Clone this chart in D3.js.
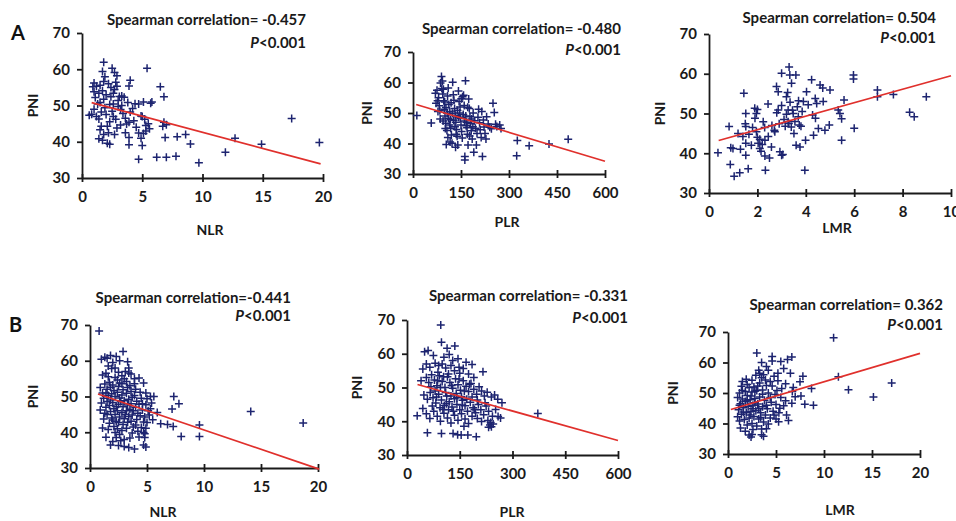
<!DOCTYPE html>
<html>
<head>
<meta charset="utf-8">
<script src="https://cdn.jsdelivr.net/npm/d3@7"></script>
<style>
  body { margin: 0; background: #fff; }
  svg { display: block; font-family: Lato, "Open Sans", sans-serif; font-weight: bold; }
  .axis path, .axis line { stroke: #1a1a1a; stroke-width: 1.8; }
  .axis text { font-size: 15px; font-weight: bold; fill: #1a1a1a; font-family: Lato, sans-serif; }
</style>
</head>
<body>
<svg id="chart" width="956" height="521"></svg>
<script>
  // --- data ---
  var pniTicks = [30, 40, 50, 60, 70];
  var nlrTicks = [0, 5, 10, 15, 20];
  var plrTicks = [0, 150, 300, 450, 600];
  var lmrTicksA = [0, 2, 4, 6, 8, 10];
  var lmrTicksB = [0, 5, 10, 15, 20];

  var titles = ['Spearman correlation= -0.457', 'Spearman correlation= -0.480', 'Spearman correlation= 0.504',
    'Spearman correlation=-0.441', 'Spearman correlation= -0.331', 'Spearman correlation= 0.362'];
  var xNames = ['NLR', 'PLR', 'LMR', 'NLR', 'PLR', 'LMR'];

  var fitA1 = [[0.8, 50.8], [19.8, 33.9]];
  var fitA2 = [[10, 52.8], [600, 34.2]];
  var fitA3 = [[0.4, 43.2], [10, 59.5]];
  var fitB1 = [[0.7, 50.7], [20.1, 29.7]];
  var fitB2 = [[30, 50.9], [600, 34.3]];
  var fitB3 = [[0.3, 44.6], [20, 63.0]];

  var ptsA1 = [[17.4,46.4],[19.7,39.8],[14.9,39.3],[12.7,41.0],[11.9,37.1],[9.7,34.2],[9.0,39.4],[8.6,42.0],[7.9,41.4],
    [7.8,36.0],[7.0,35.7],[6.2,35.7],[6.9,41.2],[7.0,44.7],[6.8,45.4],[6.7,44.3],[6.5,55.2],[6.8,52.4],[5.4,60.3],
    [5.0,39.0],[4.7,35.2],[5.1,51.0],[5.7,50.6],[5.8,51.0],[5.6,43.6],[5.1,42.3],[4.7,42.4],[4.9,47.1],[4.7,50.4],
    [5.0,47.0],[5.3,44.5],[4.0,57.0],[3.9,55.4],[3.8,50.8],[4.2,49.2],[3.9,45.4],[3.6,42.5],[3.9,41.2],[3.9,39.2],
    [3.4,47.8],[3.2,44.6],[3.0,49.7],[3.3,52.6],[3.5,52.3],[2.8,56.4],[2.7,54.4],[2.5,60.3],[2.7,59.1],[2.9,58.2],
    [2.6,53.4],[2.4,52.4],[2.3,50.3],[2.5,48.4],[2.6,47.0],[2.8,46.2],[2.9,43.8],[2.2,42.5],[2.1,39.6],[2.3,39.3],
    [2.1,44.3],[2.0,47.5],[1.9,49.4],[1.8,51.7],[1.7,54.1],[1.8,56.6],[1.9,57.9],[1.7,59.4],[1.8,61.9],[1.5,55.6],
    [1.4,53.4],[1.2,55.3],[1.0,56.2],[0.9,55.2],[1.3,50.4],[1.0,49.0],[0.8,47.6],[0.6,47.3],[1.2,47.0],[1.4,46.3],
    [1.6,44.3],[1.5,43.3],[1.4,40.8],[1.7,40.4],[1.8,42.0],[3.0,51.4],[3.2,48.9],[2.9,55.3],[4.0,48.2],[4.3,45.8],
    [4.5,44.0],[5.2,46.2],[5.5,45.0],[3.7,44.9],[2.3,45.5],[2.0,53.0],[1.1,52.2],[2.6,50.4],[3.6,46.5],[4.9,41.0],
    [3.1,52.5],[2.2,56.0],[1.6,48.2],[2.7,42.0],[5.3,43.0],[4.4,50.5],[1.0,53.8],[2.4,55.0],[3.3,50.0],[1.5,50.8]];

  var ptsA2 = [[12,49.2],[57,46.7],[70,56.5],[72,53.2],[75,57.5],[78,50.5],[80,55.0],[82,52.4],[85,48.0],[86,59.8],
    [89,62.0],[92,60.5],[95,57.8],[96,54.0],[98,51.2],[100,49.0],[102,46.6],[104,39.7],[106,44.3],[108,55.6],
    [110,58.2],[112,52.8],[115,50.5],[117,47.8],[118,45.0],[120,42.8],[122,40.1],[124,60.1],[126,56.0],[128,54.2],
    [130,51.5],[132,49.3],[134,47.0],[136,44.6],[138,42.4],[140,39.5],[142,57.2],[144,53.8],[146,50.0],[148,48.2],
    [150,46.1],[152,43.9],[154,41.8],[155,55.3],[158,55.8],[160,52.5],[162,34.6],[162,35.7],[164,60.6],[165,49.0],
    [167,47.0],[169,45.2],[170,43.0],[172,39.5],[174,54.6],[176,51.5],[178,48.8],[180,46.5],[182,44.2],[185,41.5],
    [188,50.0],[190,37.1],[192,47.5],[195,45.0],[198,39.5],[200,43.3],[203,48.6],[205,51.2],[208,46.8],[210,44.5],
    [213,42.0],[215,50.5],[217,35.7],[220,47.7],[222,45.4],[225,43.3],[228,41.5],[230,48.8],[235,46.4],[240,45.3],
    [245,44.8],[250,53.2],[254,50.2],[258,46.3],[262,45.6],[271,46.1],[275,44.9],[326,41.0],[324,36.0],[363,39.3],
    [425,39.8],[485,41.4],[90,58.0],[93,56.2],[99,53.6],[103,51.8],[107,49.9],[111,48.3],[114,46.1],[119,53.4],
    [123,49.9],[127,47.6],[131,45.5],[135,43.0],[139,50.8],[143,48.6],[147,52.0],[151,54.7],[157,49.5],[161,47.4],
    [166,45.8],[171,51.9],[177,42.5],[183,48.0],[187,45.5],[84,50.7],[77,54.0],[94,47.4],[101,44.9],[109,42.0],
    [116,40.5],[133,38.8]];

  var ptsA3 = [[0.37,40.1],[0.83,46.7],[0.88,37.2],[0.99,41.2],[1.04,34.2],[1.27,35.1],[1.44,55.1],[1.52,50.0],
    [1.52,46.7],[1.52,42.5],[1.52,39.5],[1.62,36.1],[1.89,51.3],[1.96,50.0],[1.96,45.4],[2.03,42.5],[2.1,41.2],
    [2.24,47.9],[2.31,43.3],[2.31,39.3],[2.33,35.7],[2.44,52.4],[2.58,41.6],[2.72,45.4],[2.79,56.8],[2.86,55.5],
    [2.86,50.9],[2.93,40.4],[3.0,39.5],[3.0,60.1],[3.2,54.2],[3.27,50.9],[3.27,47.9],[3.31,61.7],[3.34,59.7],
    [3.41,57.6],[3.48,50.0],[3.51,45.0],[3.59,59.7],[3.65,51.7],[3.69,49.2],[3.73,47.1],[3.76,41.6],[3.9,53.0],
    [3.96,35.7],[3.99,43.3],[4.03,55.5],[4.24,58.5],[4.28,49.6],[4.32,44.5],[4.39,53.8],[4.45,52.5],[4.52,46.2],
    [4.59,57.2],[4.7,56.4],[4.72,53.0],[4.79,45.8],[4.97,47.1],[5.0,55.9],[5.34,50.9],[5.41,50.0],[5.48,43.3],
    [5.48,48.7],[5.58,53.4],[5.97,59.7],[5.97,58.7],[6.0,46.3],[6.96,55.9],[6.96,54.2],[7.62,54.8],[8.29,50.3],
    [8.48,49.2],[8.98,54.2],[1.2,45.0],[1.4,44.2],[1.65,44.8],[1.8,46.5],[1.9,48.8],[2.0,51.0],[2.1,43.5],
    [2.2,42.2],[2.3,46.5],[2.45,44.2],[2.6,47.0],[2.7,45.8],[2.8,50.2],[2.9,47.4],[3.0,52.0],[3.1,48.5],
    [3.15,46.8],[3.2,49.8],[3.3,47.5],[3.35,52.8],[3.4,46.6],[3.45,50.8],[3.55,48.0],[3.6,42.0],[3.7,53.2],
    [3.8,46.8],[3.85,50.5],[1.5,47.4],[1.75,42.0],[2.15,40.5],[2.5,38.8],[2.0,44.0],[3.05,39.7],[3.25,55.3],
    [4.1,52.2],[4.4,48.8],[1.3,41.0],[0.9,41.4]];

  var ptsB1 = [[0.8,68.3],[1.0,60.4],[1.3,61.0],[1.5,60.7],[1.8,61.5],[2.3,61.2],[2.6,60.0],[2.9,62.6],[3.3,59.7],
    [1.1,56.0],[1.4,56.5],[1.6,55.5],[1.9,57.8],[2.2,58.0],[2.5,56.8],[2.8,55.8],[3.1,57.0],[3.4,56.6],[3.6,56.3],
    [3.9,55.0],[4.3,55.2],[4.7,53.8],[0.9,52.5],[1.1,51.0],[1.2,49.5],[1.0,48.2],[0.9,46.2],[1.3,53.5],[1.5,52.0],
    [1.6,50.3],[1.5,48.6],[1.4,47.0],[1.3,45.3],[1.2,43.7],[1.1,41.2],[1.7,54.0],[1.8,52.6],[1.9,50.8],[1.8,49.0],
    [1.7,47.5],[1.8,45.8],[1.9,44.0],[1.7,42.5],[1.6,40.8],[2.0,53.2],[2.1,51.7],[2.2,50.0],[2.0,48.3],[2.1,46.6],
    [2.2,45.0],[2.0,43.4],[2.1,41.6],[2.2,39.9],[2.3,38.5],[2.4,54.6],[2.5,52.8],[2.4,51.2],[2.6,49.6],[2.5,47.8],
    [2.4,46.0],[2.6,44.3],[2.5,42.7],[2.4,41.0],[2.6,39.4],[2.8,53.6],[2.9,51.9],[2.8,50.4],[3.0,48.8],[2.9,47.1],
    [2.8,45.5],[3.0,43.8],[2.9,42.2],[2.8,40.5],[3.0,38.0],[3.2,54.2],[3.3,52.5],[3.2,50.9],[3.4,49.2],[3.3,47.6],
    [3.2,46.0],[3.4,44.4],[3.3,42.8],[3.2,41.1],[3.5,53.0],[3.6,51.4],[3.7,49.8],[3.6,48.0],[3.5,46.4],[3.7,44.8],
    [3.6,43.1],[3.8,41.5],[3.7,39.8],[4.0,52.0],[3.9,50.3],[4.1,48.7],[4.0,47.0],[4.2,45.3],[4.1,43.6],[4.0,42.0],
    [4.2,40.3],[4.4,51.2],[4.5,49.5],[4.3,47.8],[4.6,46.2],[4.4,44.6],[4.7,42.9],[4.5,41.3],[4.8,39.6],[4.9,51.0],
    [5.0,49.4],[4.9,47.7],[5.1,46.0],[4.8,44.3],[5.0,42.7],[4.9,41.1],[4.8,38.5],[5.3,50.0],[5.4,48.2],[5.3,46.6],
    [5.2,44.8],[5.5,43.5],[5.6,50.0],[5.9,45.5],[6.2,42.4],[6.8,42.2],[7.2,46.5],[7.35,50.0],[7.8,48.0],[7.3,41.6],
    [8.0,38.8],[9.6,42.0],[9.6,38.8],[14.1,45.8],[18.7,42.6],[1.8,36.4],[2.5,36.3],[3.0,36.0],[3.4,35.7],[3.9,35.3],
    [4.7,36.4],[4.9,35.9],[1.4,38.6],[2.0,37.4],[2.7,37.6],[3.5,38.4],[4.3,38.7],[4.7,39.9],[1.5,45.0],[2.3,47.2],
    [2.7,48.5],[3.1,45.0],[3.8,46.0],[2.2,55.3],[2.6,53.8],[3.0,55.0],[1.6,58.5],[2.0,59.5],[3.4,58.0],[4.6,48.0],
    [3.9,53.6],[2.3,43.0],[1.4,51.0]];

  var ptsB2 = [[96,68.5],[98,63.4],[114,61.6],[136,62.3],[50,60.6],[60,61.0],[75,59.5],[120,59.8],[145,58.5],
    [168,57.5],[185,56.8],[216,54.7],[45,55.5],[55,57.0],[65,56.0],[80,57.2],[90,56.5],[100,57.0],[110,55.8],
    [125,56.5],[135,55.0],[150,54.2],[160,55.6],[175,54.0],[190,53.0],[40,52.0],[55,53.0],[62,51.5],[70,53.8],
    [78,52.2],[85,50.5],[92,53.5],[100,51.8],[108,50.0],[115,53.2],[122,51.5],[130,49.8],[138,52.6],[145,50.8],
    [152,49.2],[160,52.0],[168,50.4],[175,48.8],[182,51.2],[190,49.5],[198,48.0],[205,50.2],[212,49.0],[220,47.5],
    [228,48.6],[240,47.2],[249,47.8],[258,46.5],[270,45.5],[48,47.8],[58,46.5],[66,48.5],[74,47.0],[82,45.4],
    [90,48.0],[98,46.3],[106,44.7],[113,47.5],[120,45.8],[128,44.2],[135,46.7],[142,45.0],[150,43.4],[158,46.2],
    [165,44.6],[172,43.0],[180,45.6],[188,44.0],[195,42.5],[203,45.0],[210,43.4],[218,41.9],[225,44.5],[232,43.0],
    [243,41.5],[252,43.5],[259,41.4],[266,41.0],[29,41.6],[45,43.8],[55,42.2],[65,40.8],[76,43.0],[86,41.5],
    [95,40.0],[105,42.4],[115,41.0],[125,39.5],[135,41.8],[145,40.3],[155,42.2],[165,40.7],[175,39.3],[185,41.5],
    [200,40.8],[212,39.9],[232,38.2],[236,38.9],[240,38.4],[238,39.6],[245,39.2],[230,40.2],[58,36.6],[98,36.4],
    [131,36.4],[144,36.0],[154,35.9],[173,35.9],[197,35.4],[372,42.3],[80,49.0],[95,50.0],[110,48.5],[125,47.5],
    [140,48.2],[155,47.3],[170,46.5],[185,47.2],[200,46.3],[88,54.5],[118,54.0],[148,52.5],[178,51.0],[105,59.0],
    [130,58.0],[72,44.5],[102,43.5],[132,43.0],[162,38.5],[192,43.5],[222,45.5],[68,50.2],[87,52.0],[104,53.2],
    [112,45.2],[127,50.6],[142,47.0],[157,44.8],[118,43.4],[94,44.0],[84,47.2],[148,56.0],[163,49.0]];

  var ptsB3 = [[11.0,68.1],[11.5,55.3],[12.55,51.1],[15.15,48.7],[17.05,53.3],[8.9,46.0],[8.7,51.5],[7.5,53.7],
    [7.8,55.5],[7.6,49.0],[6.65,46.6],[6.1,42.8],[6.3,41.0],[5.27,40.6],[4.6,62.0],[3.0,63.1],[6.65,61.8],[6.2,61.0],
    [5.5,60.3],[3.5,60.0],[4.6,60.5],[4.2,57.5],[5.8,58.0],[6.5,56.5],[3.2,57.5],[3.7,56.0],[2.9,55.8],[3.5,55.0],
    [4.8,55.5],[5.2,54.0],[6.0,53.0],[6.8,51.8],[5.6,51.5],[4.4,53.8],[4.0,52.5],[3.3,53.3],[2.7,52.0],[1.5,53.8],
    [2.2,51.8],[1.8,50.5],[1.2,50.0],[1.0,48.5],[1.5,48.0],[2.0,49.2],[2.5,50.3],[3.0,50.8],[3.6,51.0],[4.2,50.0],
    [4.9,49.5],[5.5,48.5],[6.0,47.5],[7.0,48.8],[1.3,46.5],[1.8,47.2],[2.3,47.8],[2.8,48.2],[3.3,48.7],[3.8,47.6],
    [4.5,47.0],[5.0,46.2],[5.8,45.8],[1.1,44.5],[1.6,45.2],[2.1,45.6],[2.6,46.0],[3.1,46.4],[3.6,45.5],[4.1,44.8],
    [4.7,44.0],[5.3,43.5],[1.0,42.2],[1.4,43.0],[1.9,43.5],[2.4,44.0],[2.9,44.2],[3.4,43.5],[3.9,42.8],[4.4,41.8],
    [5.0,41.5],[1.2,40.8],[1.7,41.3],[2.2,41.8],[2.7,42.3],[3.2,41.5],[3.7,40.5],[4.2,39.8],[1.3,38.5],[2.0,39.5],
    [2.5,40.0],[3.0,39.2],[3.5,38.2],[2.2,36.2],[2.4,35.6],[2.5,36.4],[3.5,36.3],[3.7,35.8],[1.8,37.5],[4.0,38.3],
    [2.6,38.0],[1.5,50.8],[2.0,52.8],[2.4,49.0],[2.8,46.8],[3.2,44.8],[3.6,49.6],[4.0,46.0],[4.4,48.5],[1.2,46.0],
    [1.6,43.8],[2.3,42.8],[2.8,50.6],[3.1,52.3],[3.9,54.3],[4.6,52.3],[5.1,50.8],[2.0,47.5],[2.6,44.8],[3.4,42.0],
    [1.4,52.2],[1.9,54.5],[2.5,54.2],[3.3,56.5],[4.0,58.7],[5.2,56.5],[6.7,50.5],[8.0,46.3],[5.4,45.0],[4.8,42.8]];

  var panels = [
    { pts: ptsA1, fit: fitA1, xTicks: nlrTicks },
    { pts: ptsA2, fit: fitA2, xTicks: plrTicks },
    { pts: ptsA3, fit: fitA3, xTicks: lmrTicksA },
    { pts: ptsB1, fit: fitB1, xTicks: nlrTicks },
    { pts: ptsB2, fit: fitB2, xTicks: plrTicks },
    { pts: ptsB3, fit: fitB3, xTicks: lmrTicksB }
  ];

  // layout in pixels: plot box, title/p anchor, axis titles
  var layout = [
    { x0: 82, x1: 323, y0: 178, y1: 33, tx: 306, ty: 25, py: 48, yl: 33, xly: 235, xlx: 210 },
    { x0: 413, x1: 605, y0: 174, y1: 52, tx: 621, ty: 34, py: 55, yl: 367, xly: 227, xlx: 507 },
    { x0: 709, x1: 951, y0: 193, y1: 34, tx: 936, ty: 23, py: 43, yl: 660, xly: 233, xlx: 837 },
    { x0: 90, x1: 318, y0: 468, y1: 325, tx: 291, ty: 303, py: 321, yl: 33, xly: 517, xlx: 163 },
    { x0: 407, x1: 618, y0: 455, y1: 320, tx: 628, ty: 301, py: 323, yl: 357, xly: 517, xlx: 512 },
    { x0: 728, x1: 920, y0: 454, y1: 332, tx: 943, ty: 310, py: 330, yl: 673, xly: 515, xlx: 840 }
  ];

  var svg = d3.select('#chart');
  var navy = '#1d2470';

  panels.forEach(function (p, i) {
    var l = layout[i],
      g = svg.append('g'),
      xDom = d3.extent(p.xTicks),
      x = d3.scaleLinear().domain(xDom).range([l.x0, l.x1]),
      y = d3.scaleLinear().domain([30, 70]).range([l.y0, l.y1]);

    g.append('g').attr('class', 'axis')
      .attr('transform', 'translate(' + l.x0 + ',0)')
      .call(d3.axisLeft(y).tickValues(pniTicks).tickSize(5).tickSizeOuter(0).tickPadding(7));

    var xa = g.append('g').attr('class', 'axis')
      .attr('transform', 'translate(0,' + l.y0 + ')')
      .call(d3.axisBottom(x).tickValues(p.xTicks).tickSize(4).tickSizeOuter(0).tickPadding(9));
    xa.selectAll('.tick line').attr('y1', -4);

    // plus markers
    g.append('g').selectAll('path')
      .data(p.pts)
      .enter().append('path')
      .attr('d', function (d) {
        var cx = x(d[0]), cy = y(d[1]);
        return 'M' + (cx - 4) + ',' + cy + 'H' + (cx + 4) + 'M' + cx + ',' + (cy - 4) + 'V' + (cy + 4);
      })
      .attr('stroke', navy)
      .attr('stroke-width', 1.5)
      .attr('fill', 'none');

    g.append('line')
      .attr('x1', x(p.fit[0][0])).attr('y1', y(p.fit[0][1]))
      .attr('x2', x(p.fit[1][0])).attr('y2', y(p.fit[1][1]))
      .attr('stroke', '#e0302c')
      .attr('stroke-width', 1.7);

    g.append('text').attr('x', l.tx).attr('y', l.ty)
      .attr('text-anchor', 'end').style('font-size', '15px').attr('fill', '#1a1a1a')
      .text(titles[i]);

    var pt = g.append('text').attr('x', l.tx).attr('y', l.py)
      .attr('text-anchor', 'end').style('font-size', '15px').attr('fill', '#1a1a1a');
    pt.append('tspan').style('font-style', 'italic').text('P');
    pt.append('tspan').text('<0.001');

    g.append('text').attr('x', l.xlx).attr('y', l.xly)
      .attr('text-anchor', 'middle').style('font-size', '14px').attr('fill', '#1a1a1a')
      .text(xNames[i]);

    var ym = (l.y0 + l.y1) / 2;
    g.append('text')
      .attr('transform', 'translate(' + (l.yl + 5) + ',' + ym + ') rotate(-90)')
      .attr('text-anchor', 'middle').style('font-size', '14px').attr('fill', '#1a1a1a')
      .text('PNI');
  });

  svg.append('text').attr('x', 11).attr('y', 40).style('font-size', '20px').attr('fill', '#111').text('A');
  svg.append('text').attr('x', 9).attr('y', 332).style('font-size', '20px').attr('fill', '#111').text('B');
</script>
</body>
</html>
